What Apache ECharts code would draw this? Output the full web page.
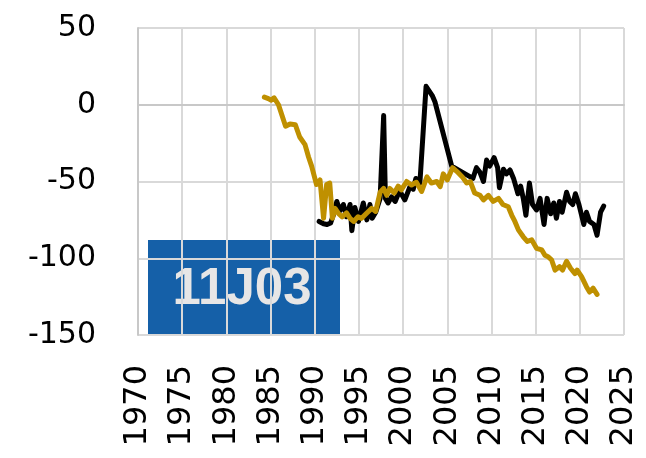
<!DOCTYPE html>
<html>
<head>
<meta charset="utf-8">
<script src="https://cdn.jsdelivr.net/npm/echarts@6/dist/echarts.min.js"></script>
<style>
  html, body { margin: 0; padding: 0; background: #ffffff; }
  #chart { width: 646px; height: 458px; }
</style>
</head>
<body>
<div id="chart"></div>
<script>
// Measured series (decimal year, value)
const blackYears = [1990.5, 1991.0, 1991.4, 1991.8, 1992.1, 1992.5, 1992.85, 1993.25, 1993.6, 1994.0,
  1994.2, 1994.55, 1994.95, 1995.5, 1995.9, 1996.25, 1996.5, 1996.9, 1997.4, 1997.8,
  1998.0, 1998.3, 1998.7, 1999.1, 1999.6, 2000.2, 2000.8, 2001.15, 2001.45, 2001.9,
  2002.6, 2003.3, 2003.6, 2005.5, 2007.9, 2008.3, 2008.7, 2009.1, 2009.45, 2009.8,
  2010.3, 2010.7, 2010.9, 2011.35, 2011.7, 2012.1, 2012.5, 2013.0, 2013.3, 2013.6,
  2013.9, 2014.3, 2014.65, 2015.1, 2015.5, 2015.95, 2016.3, 2016.7, 2017.05, 2017.35,
  2017.7, 2018.0, 2018.5, 2018.85, 2019.2, 2019.5, 2019.9, 2020.2, 2020.45, 2020.75,
  2021.1, 2021.6, 2021.95, 2022.35, 2022.7];
const blackValues = [-76, -77.5, -78, -77, -72, -63, -69, -65, -73, -65,
  -82, -67, -76, -64, -75, -65, -74, -70, -61, -7,
  -61, -64, -60, -63, -56, -62, -53, -55, -48, -51,
  12, 6, 2, -40, -48, -41, -44, -50, -36, -40,
  -34.5, -41, -54, -42, -45, -42.5, -48, -58, -53, -61,
  -72, -51, -65, -68.5, -61, -78, -61, -71, -64, -74,
  -63, -70, -57, -63, -65, -58, -65, -72, -78, -70,
  -76, -78, -85, -70, -66];

const goldYears = [1984.3, 1984.75, 1985.05, 1985.4, 1985.9, 1986.3, 1986.7, 1987.2, 1987.8, 1988.3,
  1988.9, 1989.3, 1989.65, 1990.2, 1990.6, 1991.0, 1991.35, 1991.7, 1992.0, 1992.3,
  1992.7, 1993.1, 1993.6, 1994.0, 1994.4, 1994.9, 1995.3, 1995.9, 1996.45, 1996.9,
  1997.4, 1997.8, 1998.15, 1998.5, 1999.0, 1999.45, 1999.8, 2000.4, 2000.95, 2001.5,
  2002.1, 2002.7, 2003.2, 2003.8, 2004.2, 2004.55, 2005.0, 2005.6, 2006.1, 2006.7,
  2007.2, 2007.6, 2008.1, 2008.7, 2009.1, 2009.65, 2010.2, 2010.8, 2011.3, 2011.9,
  2012.3, 2012.65, 2013.05, 2013.6, 2014.05, 2014.55, 2015.1, 2015.7, 2016.05, 2016.4,
  2016.8, 2017.2, 2017.7, 2018.05, 2018.5, 2018.95, 2019.45, 2019.7, 2020.2, 2020.75,
  2021.1, 2021.5, 2021.95];
const goldValues = [5, 4, 3, 4.5, 0, -7, -14, -12.5, -13, -21,
  -26, -34, -40, -52, -49, -74, -52, -51, -74, -67.5,
  -71, -73, -70.5, -74, -76, -73, -74, -70.5, -67.5, -69.5,
  -57, -54.5, -59, -54.5, -57.5, -53, -55.5, -50, -52.3, -50.5,
  -56.5, -47, -51, -50, -53.4, -45, -49, -41, -43.5, -47,
  -51, -50, -57.5, -59, -62, -59, -63, -61, -65, -66.5,
  -72, -76, -81.5, -86, -89, -88, -93.5, -94.6, -98, -99,
  -101, -107.7, -105.5, -107.7, -102, -106.5, -110, -107.7, -112, -118.5,
  -122, -119.5, -123.5];

// Axis ranges and ticks
const xTicks = [1970, 1975, 1980, 1985, 1990, 1995, 2000, 2005, 2010, 2015, 2020, 2025];
const yTicks = [-150, -100, -50, 0, 50];
const panelLabel = '11J03';

const pairs = (xs, ys) => xs.map((x, i) => [x, ys[i]]);

const chart = echarts.init(document.getElementById('chart'));
const gridColor = '#d9d9d9';

chart.setOption({
  animation: false,
  backgroundColor: '#ffffff',
  grid: { left: 138, right: 22, top: 28, bottom: 123 },
  xAxis: {
    type: 'value',
    min: xTicks[0],
    max: xTicks[xTicks.length - 1],
    interval: 5,
    axisLine: { show: true, lineStyle: { color: '#c8c8c8', width: 2 } },
    axisTick: { show: false },
    splitLine: { show: true, lineStyle: { color: gridColor, width: 2 } },
    axisLabel: {
      rotate: 90,
      margin: 30,
      fontFamily: 'DejaVu Sans',
      fontSize: 32,
      color: '#000000',
      formatter: v => String(v)
    }
  },
  yAxis: {
    type: 'value',
    min: yTicks[0],
    max: yTicks[yTicks.length - 1],
    interval: 50,
    axisLine: { show: true, lineStyle: { color: '#c8c8c8', width: 2 } },
    axisTick: { show: false },
    splitLine: { show: true, lineStyle: { color: gridColor, width: 2 } },
    axisLabel: {
      margin: 42,
      fontFamily: 'DejaVu Sans',
      fontSize: 30,
      color: '#000000'
    }
  },
  series: [
    {
      type: 'line',
      data: pairs(blackYears, blackValues),
      showSymbol: false,
      lineStyle: { color: '#000000', width: 5, join: 'round', cap: 'round' },
      z: 3
    },
    {
      type: 'line',
      data: pairs(goldYears, goldValues),
      showSymbol: false,
      lineStyle: { color: '#bf9000', width: 5, join: 'round', cap: 'round' },
      z: 4
    }
  ],
  graphic: [
    {
      type: 'group',
      left: 148,
      top: 240,
      z: 100,
      children: [
        {
          type: 'rect',
          shape: { x: 0, y: 0, width: 192, height: 96 },
          style: { fill: '#1560a8' }
        },
        {
          type: 'text',
          x: 94,
          y: 50,
          style: {
            text: panelLabel,
            fill: '#e7e6e6',
            fontFamily: 'Liberation Sans',
            fontWeight: 'bold',
            fontSize: 51,
            align: 'center',
            verticalAlign: 'middle'
          }
        }
      ]
    }
  ]
});
</script>
</body>
</html>
